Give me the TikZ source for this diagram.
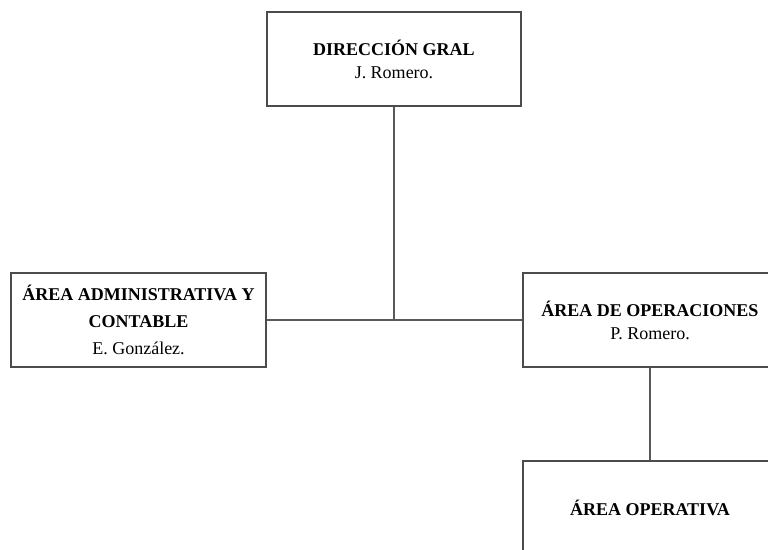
\documentclass[tikz,border=0pt]{standalone}
\usepackage{fontspec}
\setmainfont{Liberation Serif}
\begin{document}
\begin{tikzpicture}[x=1pt,y=-1pt,
  orgbox/.style={draw=black!70, line width=1.1pt, minimum width=254pt, minimum height=94pt,
    align=center, inner sep=0pt, font=\fontsize{18}{23}\selectfont},
  link/.style={draw=black!65, line width=1.3pt}]
\useasboundingbox (0,0) rectangle (768,549);
\begin{scope}
\clip (0,0) rectangle (768,549);
\node[orgbox] (dir) at (394,59) {\textbf{DIRECCIÓN GRAL}\\J. Romero.};
\node[orgbox, minimum width=255pt] (adm) at (138.5,320) {\textbf{ÁREA ADMINISTRATIVA Y}\\[4pt]\textbf{CONTABLE}\\[4pt]E. González.};
\node[orgbox] (ope) at (650,320) {\textbf{ÁREA DE OPERACIONES}\\P. Romero.};
\node[orgbox] (opv) at (650,508) {\textbf{ÁREA OPERATIVA}};
\coordinate (j) at (dir.south |- adm.east);
\draw[link] (dir.south) -- (j);
\draw[link] (adm.east) -- (ope.west);
\draw[link] (ope.south) -- (opv.north);
\end{scope}
\end{tikzpicture}
\end{document}
